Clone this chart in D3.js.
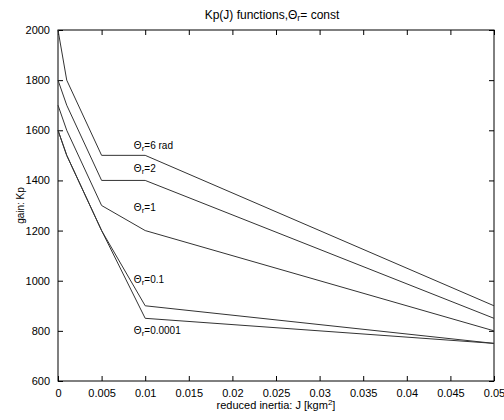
<!DOCTYPE html>
<html>
  <head>
    <meta charset="utf-8">
    <title>Kp(J) functions</title>
    <script src="https://d3js.org/d3.v7.min.js"></script>
    <style>
      body { margin: 0; background: #fff; }
      text { font-family: "Liberation Sans", Arial, sans-serif; fill: #000; }
    </style>
  </head>
  <body>
    <div id="chart"></div>
    <script>
      // data
      const inertia = [0, 0.001, 0.005, 0.01, 0.05];
      const theta6 = [2000, 1800, 1500, 1500, 900];
      const theta2 = [1800, 1700, 1400, 1400, 850];
      const theta1 = [1700, 1600, 1300, 1200, 800];
      const theta01 = [1600, 1500, 1200, 900, 750];
      const theta00001 = [1600, 1500, 1200, 850, 750];
      const seriesLabels = ["=6 rad", "=2", "=1", "=0.1", "=0.0001"];
      const labelAt = [[0.0087, 1525], [0.0087, 1432], [0.0087, 1277], [0.0087, 990], [0.0087, 787]];
      const xTicks = [0, 0.005, 0.01, 0.015, 0.02, 0.025, 0.03, 0.035, 0.04, 0.045, 0.05];
      const yTicks = [600, 800, 1000, 1200, 1400, 1600, 1800, 2000];

      const width = 504, height = 420;
      const margin = {top: 30, right: 10, bottom: 39, left: 58};

      const svg = d3.select("#chart").append("svg")
        .attr("width", width)
        .attr("height", height);

      const x = d3.scaleLinear().domain([0, 0.05]).range([margin.left, width - margin.right]);
      const y = d3.scaleLinear().domain([600, 2000]).range([height - margin.bottom, margin.top]);

      // frame
      svg.append("rect")
        .attr("x", x(0)).attr("y", y(2000))
        .attr("width", x(0.05) - x(0)).attr("height", y(600) - y(2000))
        .attr("fill", "none").attr("stroke", "#000");

      const fmt = d => String(d);

      // axes with ticks pointing inwards
      svg.append("g")
        .attr("transform", `translate(0,${y(600)})`)
        .call(d3.axisBottom(x).tickValues(xTicks).tickFormat(fmt).tickSizeInner(-5).tickSizeOuter(0).tickPadding(8))
        .call(g => g.select(".domain").remove());
      svg.append("g")
        .attr("transform", `translate(0,${y(2000)})`)
        .call(d3.axisTop(x).tickValues(xTicks).tickFormat("").tickSizeInner(-5).tickSizeOuter(0))
        .call(g => g.select(".domain").remove());
      svg.append("g")
        .attr("transform", `translate(${x(0)},0)`)
        .call(d3.axisLeft(y).tickValues(yTicks).tickFormat(fmt).tickSizeInner(-5).tickSizeOuter(0).tickPadding(8))
        .call(g => g.select(".domain").remove());
      svg.append("g")
        .attr("transform", `translate(${x(0.05)},0)`)
        .call(d3.axisRight(y).tickValues(yTicks).tickFormat("").tickSizeInner(-5).tickSizeOuter(0))
        .call(g => g.select(".domain").remove());

      svg.selectAll(".tick text")
        .style("font-family", "'Liberation Sans', Arial, sans-serif")
        .style("font-size", "11px").attr("fill", "#000");
      svg.selectAll(".tick line").attr("stroke", "#000");

      // curves
      const allSeries = [theta6, theta2, theta1, theta01, theta00001];
      const line = d3.line().x((d, i) => x(inertia[i])).y(d => y(d));
      svg.append("g").selectAll("path")
        .data(allSeries)
        .join("path")
        .attr("d", line)
        .attr("fill", "none")
        .attr("stroke", "#333")
        .attr("stroke-width", 1);

      // series labels
      const lab = svg.append("g").selectAll("text")
        .data(seriesLabels)
        .join("text")
        .attr("x", (d, i) => x(labelAt[i][0]))
        .attr("y", (d, i) => y(labelAt[i][1]))
        .style("font-size", "10px");
      lab.append("tspan").text("\u0398");
      lab.append("tspan").text("r").attr("dy", 2).style("font-size", "8px");
      lab.append("tspan").text(d => d).attr("dy", -2);

      // title
      const title = svg.append("text")
        .attr("x", 272).attr("y", 19)
        .attr("text-anchor", "middle")
        .style("font-size", "12px");
      title.append("tspan").text("Kp(J) functions,\u0398");
      title.append("tspan").text("r").attr("dy", 2).style("font-size", "9px");
      title.append("tspan").text("= const").attr("dy", -2);

      // axis labels
      const xl = svg.append("text")
        .attr("x", 276).attr("y", 409)
        .attr("text-anchor", "middle")
        .style("font-size", "11px");
      xl.append("tspan").text("reduced inertia: J [kgm");
      xl.append("tspan").text("2").attr("dy", -4).style("font-size", "8px");
      xl.append("tspan").text("]").attr("dy", 4);

      svg.append("text")
        .attr("transform", `translate(24,${(y(600) + y(2000)) / 2}) rotate(-90)`)
        .attr("text-anchor", "middle")
        .style("font-size", "10px")
        .text("gain: Kp");
    </script>
  </body>
</html>
